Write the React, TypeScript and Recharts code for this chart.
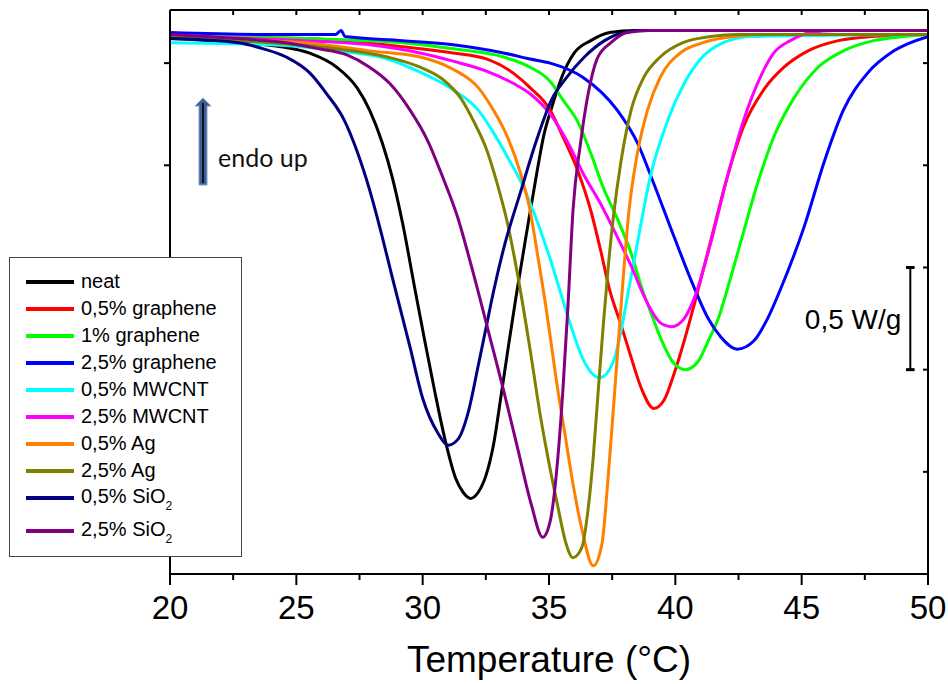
import { LineChart, Line, XAxis, YAxis, Legend, ReferenceLine, Label } from "recharts";

type Pt = [number, number];

// [temperature °C, heat flow W/g]
const neat: Pt[] = [
  [20, 0.12], [22.7, 0.1], [24.4, 0.08], [25.5, 0.05], [26.6, -0.02], [27.4, -0.12], [27.9, -0.23],
  [28.4, -0.39], [28.8, -0.56], [29.2, -0.78], [29.7, -1.11], [30.1, -1.37], [30.5, -1.62], [30.9, -1.85],
  [31.3, -2.03], [31.6, -2.1], [31.9, -2.13], [32.2, -2.1], [32.5, -2.02], [32.8, -1.87], [33.1, -1.63],
  [33.4, -1.38], [33.7, -1.14], [34.1, -0.84], [34.5, -0.55], [34.8, -0.35], [35.1, -0.22], [35.5, -0.07],
  [36.0, 0.05], [36.65, 0.11], [37.4, 0.15], [38.4, 0.16], [50, 0.16],
];
const graphene05: Pt[] = [
  [20, 0.13], [25.3, 0.12], [29.2, 0.08], [31.2, 0.05], [32.55, 0.02], [33.6, -0.05], [34.25, -0.12],
  [35.05, -0.23], [35.55, -0.36], [36.15, -0.53], [36.65, -0.72], [37.05, -0.92], [37.4, -1.11],
  [37.85, -1.28], [38.25, -1.44], [38.65, -1.59], [39.15, -1.69], [39.55, -1.65], [39.95, -1.52],
  [40.35, -1.36], [40.75, -1.18], [41.4, -0.87], [42.05, -0.56], [42.7, -0.31], [43.5, -0.13],
  [44.3, -0.02], [45.25, 0.06], [46.45, 0.11], [47.75, 0.13], [50, 0.14],
];
const graphene1: Pt[] = [
  [20, 0.13], [25.3, 0.12], [29.2, 0.1], [31.2, 0.07], [33.2, 0.03], [34.25, -0.02], [35.05, -0.09],
  [35.55, -0.18], [36.15, -0.29], [36.65, -0.44], [37.15, -0.61], [37.7, -0.76], [38.25, -0.93],
  [38.7, -1.11], [39.0, -1.21], [39.4, -1.34], [39.95, -1.47], [40.4, -1.5], [40.9, -1.46], [41.3, -1.36],
  [41.7, -1.25], [42.05, -1.11], [42.6, -0.87], [43.25, -0.59], [43.9, -0.36], [44.7, -0.17],
  [45.65, -0.02], [46.65, 0.06], [47.85, 0.11], [49.05, 0.13], [50, 0.14],
];
const graphene25: Pt[] = [
  [20, 0.15], [24.0, 0.14], [26.55, 0.14], [26.77, 0.16], [26.93, 0.13], [29.2, 0.11], [31.2, 0.09],
  [33.2, 0.05], [34.25, 0.02], [35.05, 0.0], [36.35, -0.07], [37.7, -0.23], [38.5, -0.39], [39.15, -0.59],
  [39.95, -0.85], [40.75, -1.1], [41.3, -1.25], [41.8, -1.34], [42.45, -1.4], [43.1, -1.36], [43.65, -1.25],
  [44.15, -1.11], [45.1, -0.8], [45.9, -0.48], [46.65, -0.23], [47.6, -0.05], [48.65, 0.06], [50, 0.13],
];
const mwcnt05: Pt[] = [
  [20, 0.1], [24.0, 0.09], [26.6, 0.06], [28.6, 0.02], [30.0, -0.05], [31.2, -0.13], [32.2, -0.23],
  [32.8, -0.34], [33.45, -0.48], [34.0, -0.61], [34.55, -0.78], [35.05, -0.96], [35.45, -1.12],
  [35.85, -1.28], [36.35, -1.45], [37.0, -1.54], [37.55, -1.46], [37.9, -1.28], [38.15, -1.11],
  [38.5, -0.88], [39.0, -0.56], [39.7, -0.28], [40.35, -0.1], [41.0, 0.02], [41.9, 0.1], [43.0, 0.13], [50, 0.14],
];
const mwcnt25: Pt[] = [
  [20, 0.13], [25.3, 0.11], [27.9, 0.09], [29.9, 0.05], [31.2, 0.01], [32.55, -0.04], [33.6, -0.1],
  [34.25, -0.15], [35.05, -0.25], [35.75, -0.39], [36.35, -0.54], [37.05, -0.69], [37.7, -0.85],
  [38.35, -1.02], [38.65, -1.11], [39.0, -1.2], [39.4, -1.27], [39.85, -1.29], [40.35, -1.25],
  [40.75, -1.15], [41.4, -0.88], [42.05, -0.56], [42.7, -0.28], [43.25, -0.1], [43.9, 0.05],
  [44.55, 0.11], [45.35, 0.15], [46.3, 0.16], [50, 0.16],
];
const ag05: Pt[] = [
  [20, 0.12], [25.3, 0.1], [27.9, 0.06], [29.9, 0.03], [31.2, -0.03], [32.2, -0.12], [32.8, -0.23],
  [33.35, -0.36], [33.85, -0.53], [34.25, -0.72], [34.55, -0.94], [34.85, -1.17], [35.05, -1.34],
  [35.3, -1.56], [35.65, -1.83], [35.95, -2.06], [36.3, -2.28], [36.75, -2.46], [37.1, -2.35],
  [37.3, -2.09], [37.5, -1.77], [37.7, -1.44], [37.9, -1.11], [38.15, -0.74], [38.5, -0.44],
  [38.9, -0.23], [39.4, -0.07], [40.2, 0.05], [41.1, 0.1], [42.3, 0.13], [43.7, 0.14], [50, 0.14],
];
const ag25: Pt[] = [
  [20, 0.13], [24.0, 0.1], [26.6, 0.07], [28.6, 0.03], [29.9, -0.02], [30.8, -0.08], [31.5, -0.17],
  [32.0, -0.28], [32.55, -0.43], [32.95, -0.59], [33.35, -0.78], [33.75, -1.03], [34.25, -1.4],
  [34.65, -1.72], [35.05, -1.99], [35.35, -2.17], [35.65, -2.34], [35.95, -2.42], [36.3, -2.37],
  [36.55, -2.18], [36.75, -1.93], [36.95, -1.6], [37.15, -1.28], [37.35, -0.99], [37.55, -0.75],
  [37.85, -0.48], [38.25, -0.23], [38.75, -0.07], [39.4, 0.03], [40.3, 0.1], [41.4, 0.13], [42.5, 0.14], [50, 0.14],
];
const sio205: Pt[] = [
  [20, 0.12], [22.7, 0.1], [23.7, 0.07], [24.6, 0.03], [25.55, -0.05], [26.2, -0.15], [26.9, -0.28],
  [27.4, -0.43], [27.9, -0.62], [28.4, -0.85], [28.8, -1.05], [29.5, -1.39], [30.0, -1.64], [30.6, -1.81],
  [31.0, -1.87], [31.4, -1.84], [31.8, -1.71], [32.2, -1.48], [32.5, -1.3], [32.8, -1.12], [33.2, -0.91],
  [33.9, -0.62], [34.5, -0.38], [35.1, -0.18], [35.7, -0.07], [36.4, 0.03], [37.2, 0.11], [37.95, 0.15],
  [38.75, 0.16], [50, 0.16],
];
const sio225: Pt[] = [
  [20, 0.14], [22.7, 0.12], [24.6, 0.1], [25.9, 0.07], [27.0, 0.04], [27.9, -0.02], [28.7, -0.1],
  [29.5, -0.23], [30.2, -0.38], [30.8, -0.56], [31.4, -0.76], [31.9, -0.98], [32.7, -1.36],
  [33.2, -1.6], [33.75, -1.88], [34.3, -2.16], [34.75, -2.32], [35.05, -2.24], [35.35, -1.93],
  [35.55, -1.6], [35.75, -1.19], [35.95, -0.72], [36.25, -0.39], [36.55, -0.15], [36.9, 0.02],
  [37.45, 0.1], [38.1, 0.15], [39.0, 0.16], [50, 0.16],
];

const series = [
  { name: "neat", color: "#000000", points: neat },
  { name: "0,5% graphene", color: "#ff0000", points: graphene05 },
  { name: "1% graphene", color: "#00ff00", points: graphene1 },
  { name: "2,5% graphene", color: "#0000ff", points: graphene25 },
  { name: "0,5% MWCNT", color: "#00ffff", points: mwcnt05 },
  { name: "2,5% MWCNT", color: "#ff00ff", points: mwcnt25 },
  { name: "0,5% Ag", color: "#ff8000", points: ag05 },
  { name: "2,5% Ag", color: "#808000", points: ag25 },
  { name: "0,5% SiO", sub: "2", color: "#000080", points: sio205 },
  { name: "2,5% SiO", sub: "2", color: "#800080", points: sio225 },
];

const xTicks = [20, 22.5, 25, 27.5, 30, 32.5, 35, 37.5, 40, 42.5, 45, 47.5, 50];
const yTicks = [0, -0.5, -1, -1.5, -2];
const xDomain = [20, 50];
const yDomain = [-2.5, 0.26];

// 0,5 W/g scale bar, in data units
const barT = 49.3;
const barTop = -1.0;
const barBottom = -1.5;
const barCap = 0.17;

const FONT = "'Liberation Sans', Arial, sans-serif";
const blank = () => "";

const BottomTick = (props: any) => {
  const { x, y, payload } = props;
  const major = payload.value % 5 === 0;
  return (
    <g>
      <line x1={x} x2={x} y1={y} y2={y + (major ? 11 : 6)} stroke="#000" strokeWidth={2} />
      {major && (
        <text x={x} y={y + 45} textAnchor="middle" fontSize={33} fontFamily={FONT} fill="#000">
          {payload.value}
        </text>
      )}
    </g>
  );
};

const LegendBox = () => (
  <div
    style={{
      width: 233,
      height: 300,
      boxSizing: "border-box",
      border: "1px solid #444",
      background: "#fff",
      paddingTop: 10,
      fontFamily: FONT,
      fontSize: 20,
      color: "#000",
    }}
  >
    {series.map((s, i) => (
      <div
        key={s.name + i}
        style={{ display: "flex", alignItems: "center", height: 27, marginTop: i === 9 ? 6 : 0 }}
      >
        <span style={{ width: 48, height: 4, background: s.color, marginLeft: 16, marginRight: 7 }} />
        <span style={{ whiteSpace: "nowrap", lineHeight: "27px" }}>
          {s.name}
          {s.sub && <span style={{ fontSize: 12, position: "relative", top: 7 }}>{s.sub}</span>}
        </span>
      </div>
    ))}
  </div>
);

export default function App() {
  return (
    <div style={{ position: "absolute", left: 0, top: 0, width: 948, height: 684, background: "#fff" }}>
      <LineChart width={948} height={684} margin={{ top: 10, right: 20, bottom: 0, left: 160 }}>
        <XAxis
          xAxisId="b"
          type="number"
          dataKey="t"
          domain={xDomain}
          allowDataOverflow
          ticks={xTicks}
          interval={0}
          height={110}
          tickLine={false}
          tickSize={0}
          tickMargin={0}
          tick={BottomTick}
          axisLine={{ stroke: "#000", strokeWidth: 2 }}
        >
          <Label
            value="Temperature (°C)"
            position="insideBottom"
            offset={12}
            fontSize={37}
            fontFamily={FONT}
            fill="#000"
          />
        </XAxis>
        <XAxis
          xAxisId="t"
          orientation="top"
          mirror
          type="number"
          dataKey="t"
          domain={xDomain}
          allowDataOverflow
          ticks={xTicks}
          interval={0}
          tickSize={5}
          tickFormatter={blank}
          axisLine={{ stroke: "#000", strokeWidth: 2 }}
          tickLine={{ stroke: "#000", strokeWidth: 2 }}
        />
        <YAxis
          yAxisId="l"
          type="number"
          domain={yDomain}
          allowDataOverflow
          ticks={yTicks}
          interval={0}
          width={10}
          tickSize={6}
          tickFormatter={blank}
          axisLine={{ stroke: "#000", strokeWidth: 2 }}
          tickLine={{ stroke: "#000", strokeWidth: 2 }}
        />
        <YAxis
          yAxisId="r"
          orientation="right"
          mirror
          type="number"
          domain={yDomain}
          allowDataOverflow
          ticks={yTicks}
          interval={0}
          tickSize={5}
          tickFormatter={blank}
          axisLine={{ stroke: "#000", strokeWidth: 2 }}
          tickLine={{ stroke: "#000", strokeWidth: 2 }}
        />
        {series.map((s, i) => (
          <Line
            key={s.name + i}
            xAxisId="b"
            yAxisId="l"
            data={s.points.map(([t, v]) => ({ t, v }))}
            dataKey="v"
            name={s.name}
            type="monotone"
            stroke={s.color}
            strokeWidth={3}
            dot={false}
            activeDot={false}
            isAnimationActive={false}
          />
        ))}
        <ReferenceLine
          xAxisId="b"
          yAxisId="l"
          segment={[{ x: barT, y: barTop }, { x: barT, y: barBottom }]}
          stroke="#000"
          strokeWidth={2}
          ifOverflow="visible"
        >
          <Label value="0,5 W/g" position="left" offset={9} fontSize={28} fontFamily={FONT} fill="#000" />
        </ReferenceLine>
        <ReferenceLine
          xAxisId="b"
          yAxisId="l"
          segment={[{ x: barT - barCap, y: barTop }, { x: barT + barCap, y: barTop }]}
          stroke="#000"
          strokeWidth={3}
          ifOverflow="visible"
        />
        <ReferenceLine
          xAxisId="b"
          yAxisId="l"
          segment={[{ x: barT - barCap, y: barBottom }, { x: barT + barCap, y: barBottom }]}
          stroke="#000"
          strokeWidth={3}
          ifOverflow="visible"
        />
        <Legend
          layout="vertical"
          align="center"
          verticalAlign="middle"
          content={() => <LegendBox />}
          wrapperStyle={{ left: 9, top: 257, width: 233, height: 300 }}
        />
      </LineChart>
      <svg
        width={948}
        height={684}
        style={{ position: "absolute", left: 0, top: 0, pointerEvents: "none" }}
      >
        <polygon
          points="203,98 211,106 207,106 207,185 199,185 199,106 195,106"
          fill="#3f5f95"
          stroke="#7f9fcf"
          strokeWidth={1}
        />
        <line x1={203} y1={103} x2={203} y2={183} stroke="#10101a" strokeWidth={2} />
        <text x={218} y={167} fontSize={25} fontFamily="Lato, 'Open Sans', sans-serif" fill="#111">
          endo up
        </text>
      </svg>
    </div>
  );
}
